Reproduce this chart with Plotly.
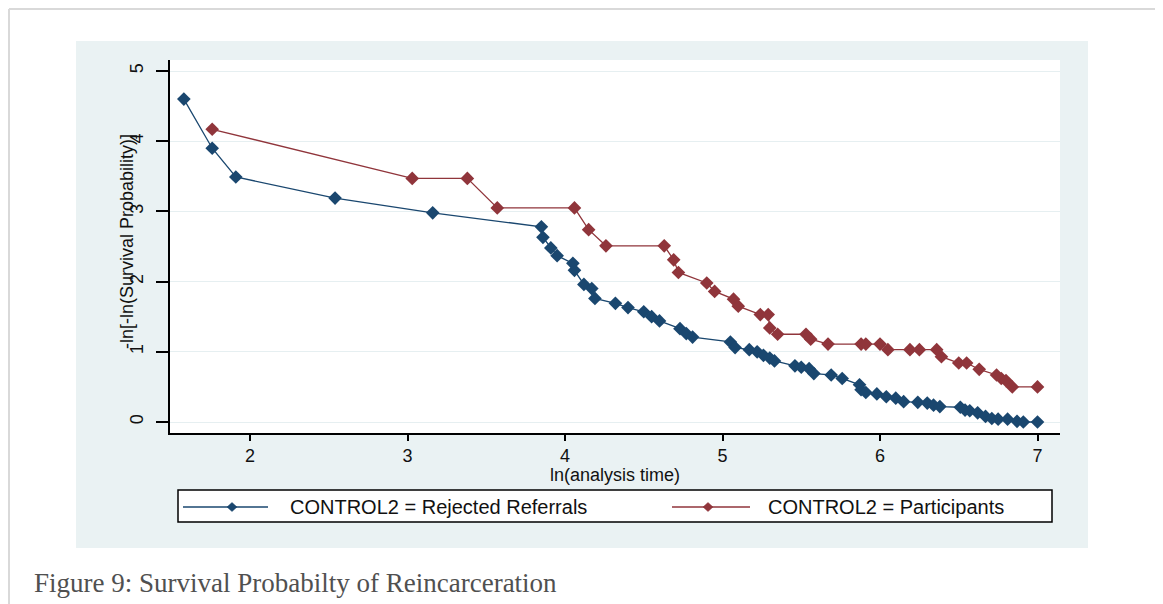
import plotly.graph_objects as go

# ---- data ----
rejected_x = [1.58, 1.76, 1.91, 2.54, 3.16, 3.85, 3.86, 3.91, 3.95, 4.05, 4.06, 4.12, 4.17, 4.19,
              4.32, 4.40, 4.50, 4.55, 4.60, 4.73, 4.77, 4.81, 5.05, 5.08, 5.17, 5.22, 5.26, 5.30,
              5.33, 5.46, 5.50, 5.55, 5.58, 5.69, 5.76, 5.87, 5.88, 5.91, 5.98, 6.04, 6.10, 6.15,
              6.24, 6.30, 6.34, 6.38, 6.51, 6.54, 6.57, 6.62, 6.67, 6.71, 6.75, 6.81, 6.87, 6.91, 7.00]
rejected_y = [4.60, 3.90, 3.49, 3.19, 2.98, 2.78, 2.63, 2.48, 2.37, 2.26, 2.16, 1.96, 1.90, 1.76,
              1.69, 1.63, 1.57, 1.50, 1.44, 1.33, 1.26, 1.21, 1.14, 1.06, 1.03, 1.00, 0.95, 0.91,
              0.87, 0.80, 0.78, 0.76, 0.69, 0.67, 0.62, 0.53, 0.46, 0.42, 0.40, 0.36, 0.34, 0.29,
              0.28, 0.27, 0.24, 0.22, 0.21, 0.17, 0.16, 0.13, 0.08, 0.05, 0.04, 0.04, 0.01, 0.00, 0.00]

partic_x = [1.76, 3.03, 3.38, 3.57, 4.06, 4.15, 4.26, 4.63, 4.69, 4.72, 4.90, 4.95, 5.07, 5.10,
            5.24, 5.29, 5.30, 5.35, 5.53, 5.56, 5.67, 5.88, 5.91, 6.00, 6.05, 6.19, 6.25, 6.36,
            6.39, 6.50, 6.55, 6.63, 6.74, 6.77, 6.80, 6.84, 7.00]
partic_y = [4.17, 3.47, 3.47, 3.05, 3.05, 2.74, 2.51, 2.51, 2.31, 2.13, 1.98, 1.86, 1.75, 1.65,
            1.53, 1.53, 1.34, 1.25, 1.25, 1.18, 1.11, 1.11, 1.11, 1.11, 1.03, 1.03, 1.03, 1.03,
            0.93, 0.84, 0.84, 0.75, 0.67, 0.62, 0.59, 0.50, 0.50]

x_ticks = [2, 3, 4, 5, 6, 7]
y_ticks = [0, 1, 2, 3, 4, 5]
series_names = ["CONTROL2 = Rejected Referrals", "CONTROL2 = Participants"]
x_title = "ln(analysis time)"
y_title = "-ln[-ln(Survival Probability)]"
caption = "Figure 9: Survival Probabilty of Reincarceration"

BLUE = "#1a476f"
RED = "#90353b"
OFF = 8                      # page body margin of the browser
PAGE_W, PAGE_H = 1163, 604
W, H = PAGE_W - OFF, PAGE_H - OFF
L, R, T, B = 170, 1060, 60, 433  # plot area, page px


def px(x):
    return (x - L) / (R - L)


def py(y):
    return (B - y) / (B - T)


fig = go.Figure()
fig.add_trace(go.Scatter(x=rejected_x, y=rejected_y, mode="lines+markers", name=series_names[0],
                         line=dict(color=BLUE, width=1.3),
                         marker=dict(symbol="diamond", size=10.5, color=BLUE), showlegend=False))
fig.add_trace(go.Scatter(x=partic_x, y=partic_y, mode="lines+markers", name=series_names[1],
                         line=dict(color=RED, width=1.3),
                         marker=dict(symbol="diamond", size=10.5, color=RED), showlegend=False))

shapes = []
# page borders
shapes.append(dict(type="line", xref="paper", yref="paper", x0=px(9), x1=px(9), y0=py(9), y1=py(PAGE_H),
                   line=dict(color="#d9d9d9", width=2), layer="below"))
shapes.append(dict(type="line", xref="paper", yref="paper", x0=px(9), x1=px(PAGE_W), y0=py(9), y1=py(9),
                   line=dict(color="#d9d9d9", width=2), layer="below"))
# chart background
shapes.append(dict(type="rect", xref="paper", yref="paper", x0=px(76), x1=px(1088), y0=py(41), y1=py(548),
                   fillcolor="#eaf2f3", line=dict(width=0), layer="below"))
shapes.append(dict(type="rect", xref="paper", yref="paper", x0=px(L), x1=px(R), y0=py(T), y1=py(B),
                   fillcolor="white", line=dict(width=0), layer="below"))
# custom legend
shapes.append(dict(type="rect", xref="paper", yref="paper", x0=px(178), x1=px(1052), y0=py(490), y1=py(522),
                   fillcolor="white", line=dict(color="black", width=1.5)))
LY = 507
for (x0, x1, xm, col) in [(183, 268, 232, BLUE), (672, 750, 708, RED)]:
    shapes.append(dict(type="line", xref="paper", yref="paper", x0=px(x0), x1=px(x1), y0=py(LY), y1=py(LY),
                       line=dict(color=col, width=1.3)))
    path = "M {} {} L {} {} L {} {} L {} {} Z".format(
        px(xm - 5), py(LY), px(xm), py(LY - 4.5), px(xm + 5), py(LY), px(xm), py(LY + 4.5))
    shapes.append(dict(type="path", xref="paper", yref="paper", path=path, fillcolor=col,
                       line=dict(color=col, width=0.5)))

annotations = [
    dict(text=x_title, xref="paper", yref="paper", x=0.5, y=py(475), xanchor="center", yanchor="middle",
         showarrow=False, font=dict(family="Liberation Sans, Arial", size=18, color="#111")),
    dict(text=y_title, xref="paper", yref="paper", x=px(127), y=py(242), xanchor="center", yanchor="middle",
         textangle=-90, showarrow=False, font=dict(family="Liberation Sans, Arial", size=18, color="#111")),
    dict(text=series_names[0], xref="paper", yref="paper", x=px(288), y=py(LY), xanchor="left",
         yanchor="middle", showarrow=False, font=dict(family="Liberation Sans, Arial", size=20, color="#111")),
    dict(text=series_names[1], xref="paper", yref="paper", x=px(766), y=py(LY), xanchor="left",
         yanchor="middle", showarrow=False, font=dict(family="Liberation Sans, Arial", size=20, color="#111")),
    dict(text=caption, xref="paper", yref="paper", x=px(32), y=py(583), xanchor="left", yanchor="middle",
         showarrow=False, font=dict(family="Liberation Serif, Times New Roman", size=27, color="#505050")),
]

fig.update_layout(
    width=W, height=H,
    margin=dict(l=L - OFF, r=W - (R - OFF), t=T - OFF, b=H - (B - OFF), pad=0),
    paper_bgcolor="white", plot_bgcolor="rgba(0,0,0,0)",
    shapes=shapes, annotations=annotations, showlegend=False,
)
fig.update_xaxes(range=[2 + (L - 250) / 157.5, 2 + (R - 250) / 157.5], tickvals=x_ticks,
                 ticks="outside", ticklen=6, tickwidth=1.5, tickcolor="black",
                 showline=True, linecolor="black", linewidth=1.5, showgrid=False, zeroline=False,
                 tickfont=dict(family="Liberation Sans, Arial", size=18, color="#111"))
fig.update_yaxes(range=[(422 - B) / 70.2, (422 - T) / 70.2], tickvals=y_ticks, tickangle=-90,
                 ticks="outside", ticklen=12, tickwidth=1.5, tickcolor="black", ticklabelstandoff=6,
                 showline=True, linecolor="black", linewidth=2, showgrid=True, gridcolor="#e6eff1",
                 gridwidth=1, zeroline=False,
                 tickfont=dict(family="Liberation Sans, Arial", size=18, color="#111"))

fig.write_html("out.html")
